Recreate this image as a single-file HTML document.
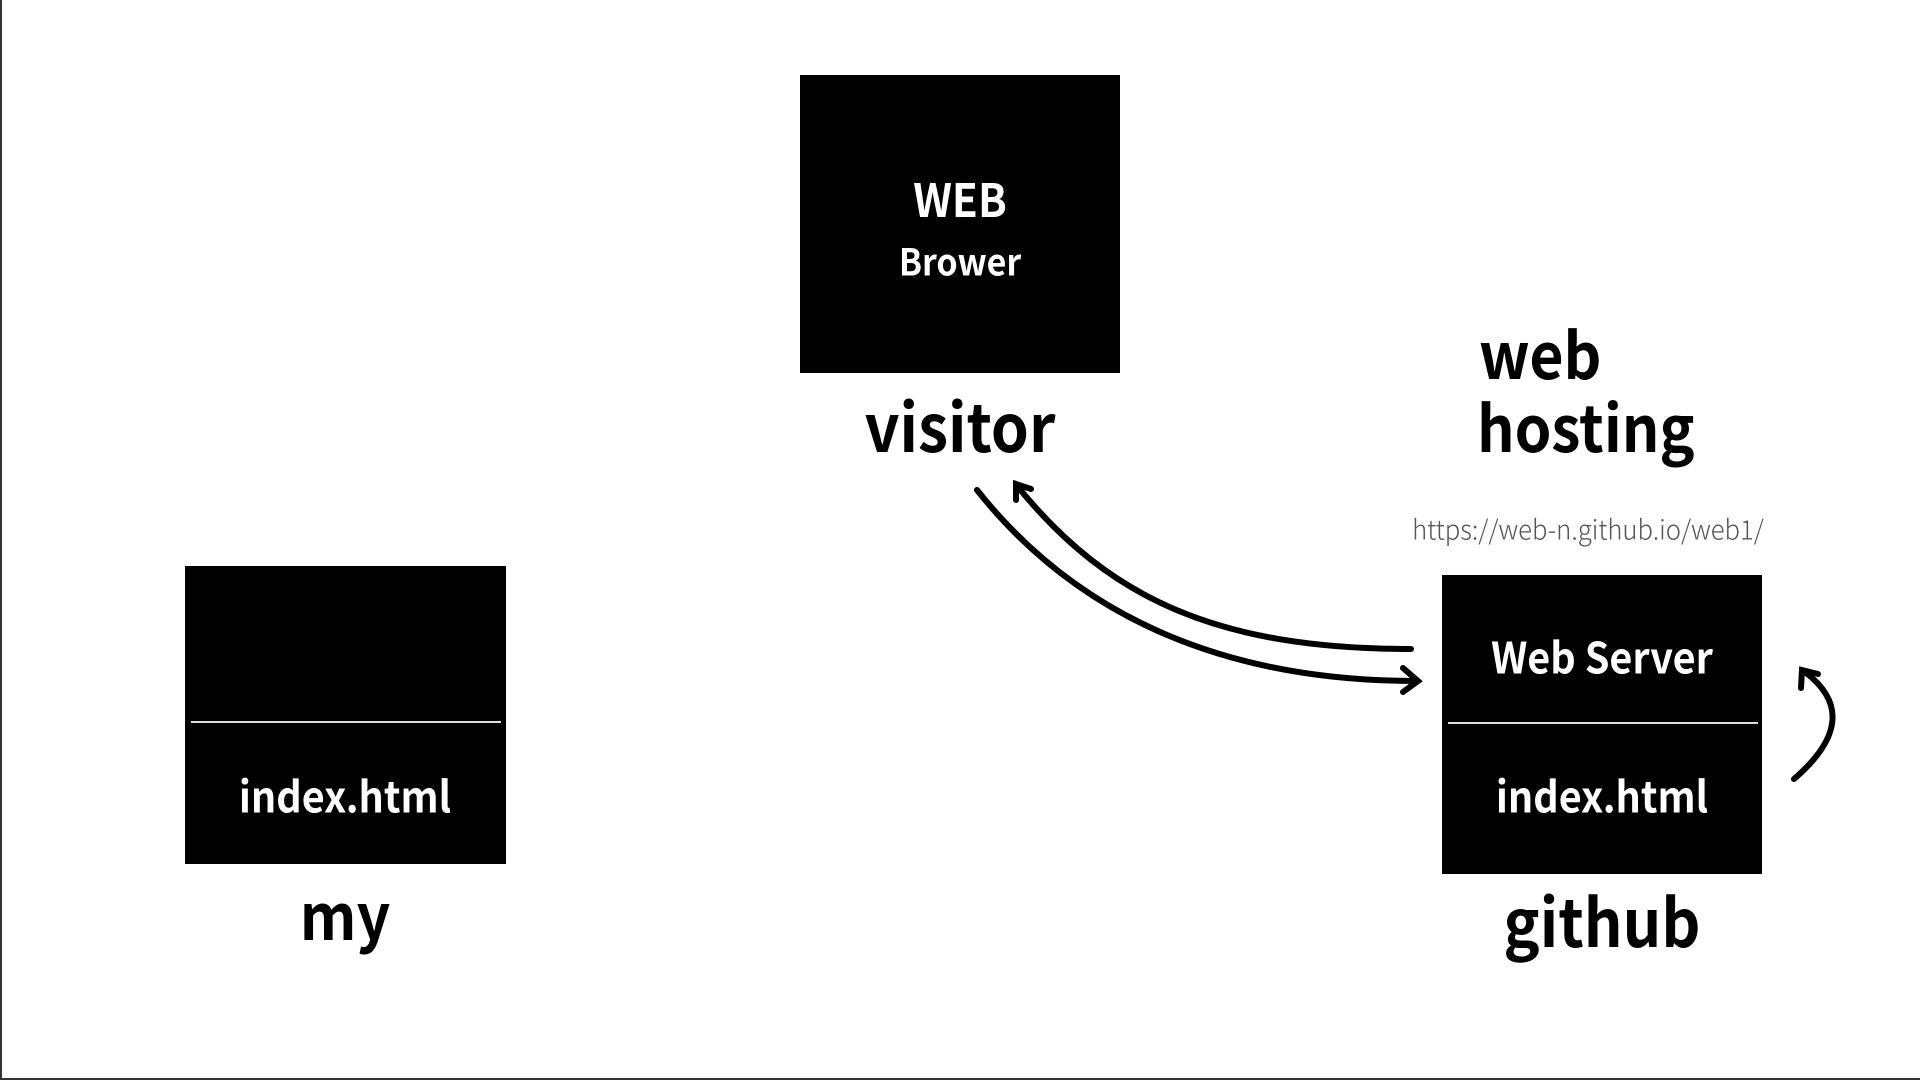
<!DOCTYPE html>
<html><head><meta charset="utf-8"><style>
html,body{margin:0;padding:0}
body{width:1920px;height:1080px;position:relative;background:#fff;overflow:hidden;font-family:"Noto Sans CJK KR","Liberation Sans",sans-serif;font-weight:700;color:#000}
.box{position:absolute;background:#000}
.t{position:absolute;white-space:nowrap;transform:translate(-50%,-50%) scaleX(0.92);line-height:1}
.l{transform:translate(0,-50%) scaleX(0.92);transform-origin:0 50%}
.w{color:#fff}
.div{position:absolute;height:2px;background:#ddd}
</style></head><body>
<div style="position:absolute;left:0;top:0;width:2px;height:1080px;background:#333"></div>
<div style="position:absolute;left:0;top:1078px;width:1920px;height:2px;background:#333"></div>

<div class="box" style="left:800px;top:75px;width:320px;height:298px"></div>
<div class="t w" style="left:960px;top:198px;font-size:46px">WEB</div>
<div class="t w" style="left:960px;top:260px;font-size:37px">Brower</div>
<div class="t" style="left:960px;top:424px;font-size:66px">visitor</div>

<div class="t l" style="left:1479px;top:352px;font-size:64px">web</div>
<div class="t l" style="left:1477px;top:425px;font-size:64px">hosting</div>
<div class="t" style="left:1588px;top:528px;font-size:27px;font-weight:300;color:#555;transform:translate(-50%,-50%) scaleX(0.95)">https://web-n.github.io/web1/</div>

<div class="box" style="left:185px;top:566px;width:321px;height:298px"></div>
<div class="div" style="left:191px;top:721px;width:310px"></div>
<div class="t w" style="left:345px;top:795px;font-size:43px">index.html</div>
<div class="t" style="left:345px;top:913px;font-size:64px">my</div>

<div class="box" style="left:1442px;top:575px;width:320px;height:299px"></div>
<div class="div" style="left:1448px;top:722px;width:310px"></div>
<div class="t w" style="left:1602px;top:656px;font-size:43px">Web Server</div>
<div class="t w" style="left:1602px;top:795px;font-size:43px">index.html</div>
<div class="t" style="left:1602px;top:919px;font-size:66px">github</div>

<svg width="1920" height="1080" style="position:absolute;left:0;top:0" fill="none" stroke="#000" stroke-width="6" stroke-linecap="round">
<path d="M1411,649 C1220,649 1110,600 1018,487"/>
<path d="M1016,500 L1016,484 L1031,489"/>
<path d="M977,490 C1080,620 1230,681 1416,681"/>
<path d="M1403,668 L1418,681 L1403,692"/>
<path d="M1794,779 C1845,735 1842,700 1805,672"/>
<path d="M1801,688 L1802,670 L1818,674"/>
</svg>
</body></html>
